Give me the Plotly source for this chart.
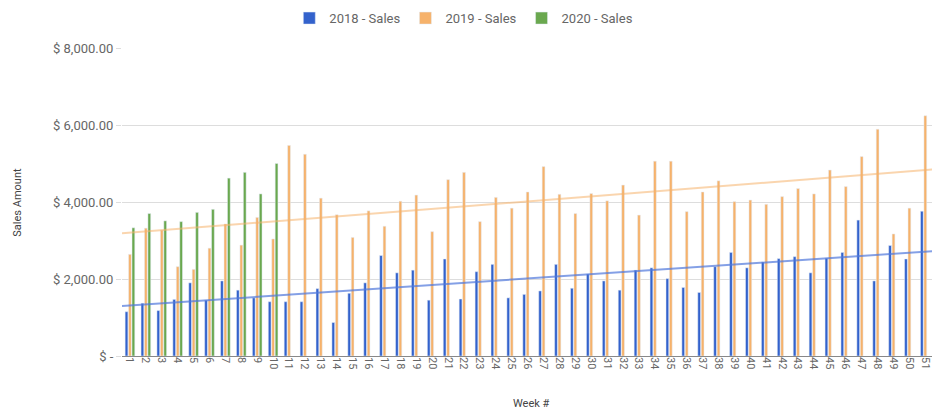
import numpy as np
import plotly.graph_objects as go

weeks = list(range(1, 52))

sales_2018 = [1150, 1370, 1180, 1470, 1900, 1450, 1950, 1710, 1510, 1410,
              1410, 1410, 1750, 870, 1630, 1900, 2610, 2160, 2230, 1450,
              2520, 1480, 2190, 2380, 1510, 1600, 1690, 2380, 1760, 2130,
              1950, 1710, 2230, 2290, 2010, 1780, 1650, 2320, 2690, 2290,
              2440, 2530, 2580, 2160, 2540, 2690, 3530, 1950, 2870, 2520,
              3760]

sales_2019 = [2640, 3320, 3270, 2320, 2250, 2800, 3430, 2880, 3600, 3040,
              5470, 5240, 4100, 3670, 3080, 3770, 3370, 4020, 4180, 3230,
              4580, 4770, 3490, 4120, 3840, 4260, 4920, 4200, 3700, 4220,
              4030, 4440, 3660, 5060, 5060, 3750, 4260, 4550, 4010, 4050,
              3940, 4140, 4350, 4210, 4830, 4400, 5180, 5890, 3170, 3840,
              6240]

sales_2020 = [3330, 3700, 3510, 3490, 3730, 3810, 4620, 4770, 4210, 5000]

y_tick_vals = [0, 2000, 4000, 6000, 8000]
y_tick_text = ["$ -", "$ 2,000.00", "$ 4,000.00", "$ 6,000.00", "$ 8,000.00"]

C18 = "#3362cc"
C19 = "#f6b26b"
C20 = "#6aa84f"

fig = go.Figure()
fig.add_trace(go.Bar(x=weeks, y=sales_2018, name="2018 - Sales", marker_color=C18))
fig.add_trace(go.Bar(x=weeks, y=sales_2019, name="2019 - Sales", marker_color=C19))
fig.add_trace(go.Bar(x=weeks[:len(sales_2020)], y=sales_2020, name="2020 - Sales", marker_color=C20))

# linear trendlines (least squares fit of the data)
xs = np.array([0.5, 51.5])
for vals, col in [(sales_2018, "rgba(80,120,220,0.7)"), (sales_2019, "rgba(246,178,107,0.55)")]:
    k, b = np.polyfit(weeks, vals, 1)
    fig.add_trace(go.Scatter(x=xs, y=k * xs + b, mode="lines",
                             line=dict(color=col, width=2), showlegend=False,
                             hoverinfo="skip"))

fig.update_layout(
    width=932, height=413,
    margin=dict(l=122, r=0, t=48, b=57),
    paper_bgcolor="white", plot_bgcolor="white",
    font=dict(family="Roboto, Arial, sans-serif", size=12, color="#666666"),
    barmode="group", bargap=0.35, bargroupgap=0.2,
    legend=dict(orientation="h", x=0.422, xanchor="center", y=1.097, yanchor="middle",
                font=dict(size=13, color="#666666"), itemwidth=30, traceorder="normal"),
    xaxis=dict(range=[0.5, 51.42], tickmode="array", tickvals=weeks,
               ticktext=[str(w) for w in weeks], tickangle=90,
               tickfont=dict(size=11, color="#666666"), showgrid=False,
               showline=False, ticks="", automargin=False,
               ticklabeloverflow="allow"),
    yaxis=dict(range=[0, 8000], tickmode="array", tickvals=y_tick_vals,
               ticktext=y_tick_text, tickfont=dict(size=13, color="#666666"),
               gridcolor="#dddddd", gridwidth=1, zeroline=True,
               zerolinecolor="#888888", zerolinewidth=1,
               ticks="outside", ticklen=5, tickcolor="#dddddd", automargin=False),
    annotations=[
        dict(text="Sales Amount", xref="paper", yref="paper", x=-0.13, y=0.5,
             xanchor="center", yanchor="middle", textangle=-90, showarrow=False,
             font=dict(size=11, color="#444444")),
        dict(text="Week #", xref="paper", yref="paper", x=0.505, y=-0.155,
             xanchor="center", yanchor="middle", showarrow=False,
             font=dict(size=11, color="#444444")),
    ],
)

fig.write_html("out.html", config={"displayModeBar": False},
               post_script="document.body.style.margin='0';document.body.style.overflow='hidden';")
